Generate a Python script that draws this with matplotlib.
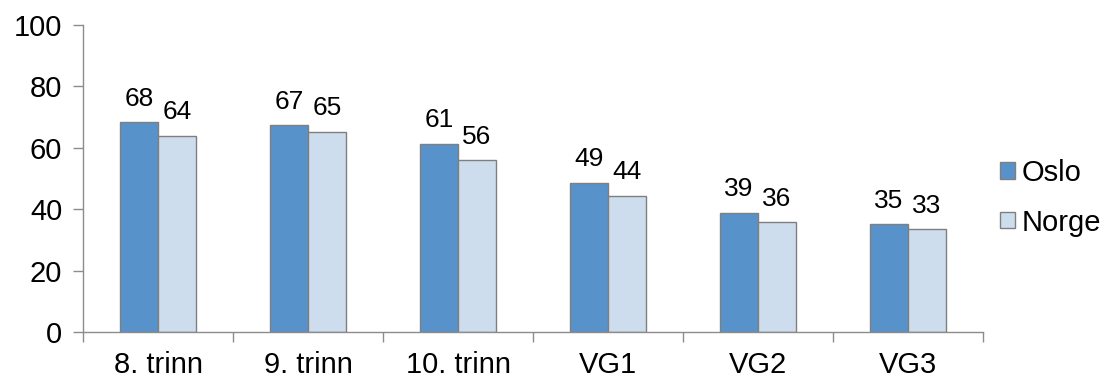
import matplotlib
matplotlib.use("Agg")
import matplotlib.pyplot as plt
import numpy as np

categories = ["8. trinn", "9. trinn", "10. trinn", "VG1", "VG2", "VG3"]
oslo = [68.3, 67.3, 61.2, 48.6, 38.8, 35.1]
norge = [63.8, 65.1, 55.9, 44.4, 35.7, 33.4]
series_names = ["Oslo", "Norge"]
yticks = [0, 20, 40, 60, 80, 100]

plt.rcParams['font.family'] = ['Liberation Sans', 'DejaVu Sans']

fig = plt.figure(figsize=(11.15, 3.8), dpi=100)
ax = fig.add_axes([83/1115, 1-332/380, 900/1115, 307/380])

x = np.arange(len(categories))
w = 0.253
gray = "#8c8c8c"
b1 = ax.bar(x - w/2, oslo, w, color="#5892CB", edgecolor="#7f7f7f", linewidth=1.0, label=series_names[0])
b2 = ax.bar(x + w/2, norge, w, color="#CDDDED", edgecolor="#7f7f7f", linewidth=1.0, label=series_names[1])

for bars, vals in ((b1, oslo), (b2, norge)):
    for r, v in zip(bars, vals):
        ax.text(r.get_x() + r.get_width()/2, v + 3.8, f"{round(v):d}",
                ha="center", va="bottom", fontsize=19)

ax.set_xlim(-0.5, len(categories) - 0.5)
ax.set_ylim(0, 100)
ax.set_yticks(yticks)
ax.set_yticklabels([str(t) for t in yticks], fontsize=21)
ax.set_xticks(x)
ax.set_xticklabels(categories, fontsize=21)
ax.set_xticks(np.arange(len(categories) + 1) - 0.5, minor=True)
ax.tick_params(axis='x', which='major', length=0, pad=14)
ax.tick_params(axis='x', which='minor', length=7, color=gray, width=1)
ax.tick_params(axis='y', length=7, color=gray, width=1, pad=8)

for s in ("top", "right"):
    ax.spines[s].set_visible(False)
for s in ("left", "bottom"):
    ax.spines[s].set_color(gray)
    ax.spines[s].set_linewidth(1)

fig.legend(handles=[b1, b2], labels=series_names, loc="center left",
           bbox_to_anchor=(0.897, 0.48), frameon=False, fontsize=21,
           handlelength=0.5, handleheight=0.5, handletextpad=0.25,
           labelspacing=0.75, borderpad=0, borderaxespad=0)

fig.savefig("out.png", dpi=100)
